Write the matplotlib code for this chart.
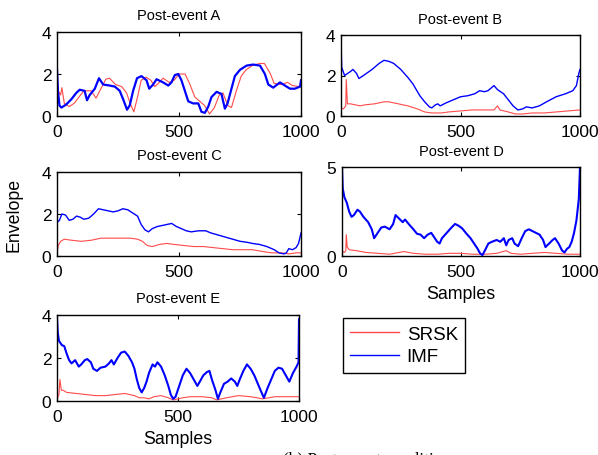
import matplotlib
matplotlib.use("Agg")
import matplotlib.pyplot as plt

plt.rcParams['font.family'] = ['Liberation Sans', 'DejaVu Sans']

# ---------------- data ----------------
# Post-event A
a_imf_x = [0, 4, 10, 18, 38, 59, 79, 93, 113, 123, 134, 155, 172, 189, 216, 237, 257, 271, 287, 298,
           312, 328, 346, 367, 378, 394, 408, 435, 456, 469, 483, 497, 510, 524, 538, 558, 579, 592,
           606, 620, 633, 654, 674, 688, 699, 715, 729, 750, 777, 804, 832, 852, 866, 886, 914, 934,
           955, 975, 996, 1000]
a_imf_y = [2.2, 1.2, 0.5, 0.4, 0.55, 0.8, 1.1, 1.25, 1.2, 0.75, 1.0, 1.3, 1.8, 1.5, 1.45, 1.4, 1.2, 0.8, 0.3, 0.5,
           1.2, 1.8, 1.9, 1.7, 1.3, 1.5, 1.75, 1.6, 1.45, 1.6, 1.95, 2.0, 1.7, 1.2, 0.7, 0.6, 0.6, 0.2,
           0.15, 0.45, 0.9, 1.15, 1.05, 0.35, 0.6, 1.3, 1.9, 2.2, 2.4, 2.45, 2.4, 2.0, 1.5, 1.35, 1.6, 1.45,
           1.3, 1.3, 1.4, 1.7]
a_srsk_x = [0, 15, 20, 30, 50, 70, 90, 110, 140, 160, 180, 200, 215, 240, 265, 285, 300, 315, 330, 345,
            365, 385, 400, 415, 435, 460, 480, 500, 525, 545, 565, 585, 605, 625, 645, 665, 680, 700,
            715, 735, 755, 775, 800, 830, 850, 875, 890, 920, 945, 965, 990, 1000]
a_srsk_y = [1.3, 1.0, 1.35, 0.6, 0.45, 0.6, 0.9, 1.2, 1.2, 0.85, 1.3, 1.75, 1.8, 1.5, 1.4, 1.1, 0.6, 0.2, 0.9, 1.7,
            1.85, 1.7, 1.4, 1.55, 1.8, 1.6, 1.7, 2.0, 2.0, 1.5, 0.9, 0.7, 0.5, 0.1, 0.4, 1.0, 1.1, 0.5,
            0.4, 1.2, 1.9, 2.2, 2.4, 2.5, 2.5, 2.0, 1.55, 1.5, 1.6, 1.45, 1.4, 1.5]

# Post-event B
b_imf_x = [0, 3, 15, 40, 50, 65, 75, 100, 130, 160, 180, 200, 220, 250, 280, 300, 330, 350, 370, 380,
           395, 405, 415, 440, 470, 500, 530, 560, 580, 600, 615, 630, 640, 655, 680, 700, 720, 740,
           760, 775, 800, 830, 860, 900, 940, 970, 985, 995, 1000]
b_imf_y = [3.7, 2.4, 2.0, 2.2, 2.3, 2.1, 1.85, 2.05, 2.3, 2.6, 2.75, 2.7, 2.6, 2.3, 1.9, 1.6, 1.0, 0.7, 0.45, 0.4,
           0.55, 0.6, 0.5, 0.65, 0.8, 0.95, 1.0, 1.1, 1.25, 1.2, 1.25, 1.4, 1.5, 1.3, 1.1, 0.8, 0.5, 0.3,
           0.35, 0.45, 0.4, 0.5, 0.7, 0.95, 1.1, 1.25, 1.5, 2.1, 2.3]
b_srsk_x = [0, 10, 20, 22, 27, 40, 60, 80, 100, 140, 180, 200, 240, 280, 320, 350, 380, 420, 450, 500,
            550, 600, 640, 655, 665, 700, 730, 760, 800, 850, 900, 950, 1000]
b_srsk_y = [0.4, 0.35, 0.5, 1.8, 0.6, 0.6, 0.55, 0.5, 0.55, 0.6, 0.7, 0.7, 0.6, 0.5, 0.35, 0.2, 0.15, 0.15, 0.2, 0.25,
            0.3, 0.3, 0.3, 0.5, 0.3, 0.2, 0.1, 0.1, 0.15, 0.15, 0.2, 0.25, 0.3]

# Post-event C
c_imf_x = [0, 10, 20, 35, 50, 65, 80, 95, 110, 130, 150, 170, 190, 210, 230, 250, 270, 290, 310, 330,
           345, 360, 375, 390, 410, 430, 450, 470, 490, 510, 530, 550, 580, 610, 630, 660, 690, 720,
           750, 780, 800, 830, 860, 890, 910, 930, 940, 950, 965, 980, 990, 1000]
c_imf_y = [1.6, 1.7, 2.0, 1.95, 1.7, 1.75, 1.9, 1.85, 1.75, 1.8, 2.0, 2.25, 2.2, 2.15, 2.1, 2.15, 2.25, 2.2, 2.05, 1.9,
           1.5, 1.25, 1.15, 1.3, 1.4, 1.45, 1.5, 1.55, 1.4, 1.3, 1.2, 1.15, 1.2, 1.2, 1.1, 1.0, 0.9, 0.8,
           0.7, 0.65, 0.6, 0.55, 0.45, 0.3, 0.15, 0.1, 0.15, 0.35, 0.3, 0.4, 0.6, 1.1]
c_srsk_x = [0, 5, 15, 30, 60, 100, 140, 180, 220, 260, 300, 330, 350, 370, 390, 420, 450, 480, 520, 560,
            600, 640, 680, 720, 760, 800, 850, 880, 920, 950, 980, 1000]
c_srsk_y = [0.1, 0.5, 0.7, 0.8, 0.75, 0.7, 0.75, 0.85, 0.85, 0.85, 0.85, 0.8, 0.7, 0.5, 0.45, 0.55, 0.6, 0.55, 0.5, 0.45,
            0.45, 0.4, 0.35, 0.3, 0.3, 0.3, 0.2, 0.15, 0.15, 0.1, 0.15, 0.15]

# Post-event D
d_imf_x = [0, 3, 10, 20, 30, 40, 50, 65, 75, 90, 110, 125, 135, 150, 165, 180, 200, 215, 225, 240,
           255, 265, 280, 300, 315, 330, 345, 360, 375, 390, 400, 410, 420, 440, 460, 475, 490, 505,
           520, 540, 555, 570, 580, 590, 600, 615, 630, 650, 665, 680, 690, 700, 715, 725, 740, 755,
           770, 785, 800, 815, 830, 845, 855, 870, 885, 895, 910, 925, 935, 945, 955, 965, 975, 985,
           995, 1000]
d_imf_y = [5.0, 3.8, 3.3, 3.0, 2.5, 2.2, 2.3, 2.6, 2.5, 2.2, 1.9, 1.5, 1.0, 1.3, 1.6, 1.65, 1.5, 1.8, 2.3, 2.1,
           1.9, 2.05, 1.8, 1.5, 1.25, 1.2, 1.0, 1.2, 1.3, 1.0, 0.8, 0.7, 1.0, 1.3, 1.6, 1.8, 1.7, 1.55,
           1.3, 1.0, 0.7, 0.4, 0.15, 0.05, 0.3, 0.7, 0.8, 0.9, 0.8, 1.0, 0.6, 0.9, 1.0, 0.7, 0.55, 1.0,
           1.4, 1.5, 1.4, 1.3, 1.2, 0.9, 0.5, 0.7, 0.9, 1.0, 0.7, 0.3, 0.2, 0.4, 0.5, 0.8, 1.3, 2.0,
           3.2, 5.0]
d_srsk_x = [0, 10, 16, 18, 22, 30, 60, 100, 150, 200, 240, 260, 300, 350, 400, 450, 500, 550, 600, 650,
            690, 710, 750, 800, 850, 900, 950, 1000]
d_srsk_y = [0.3, 0.2, 0.3, 1.2, 0.5, 0.35, 0.3, 0.2, 0.15, 0.1, 0.2, 0.25, 0.15, 0.1, 0.1, 0.15, 0.15, 0.1, 0.1, 0.15,
            0.3, 0.15, 0.1, 0.15, 0.2, 0.15, 0.1, 0.1]

# Post-event E
e_imf_x = [0, 3, 8, 20, 30, 40, 50, 60, 75, 90, 100, 115, 125, 140, 150, 165, 180, 200, 215, 225,
           235, 250, 265, 280, 295, 310, 320, 330, 340, 350, 360, 370, 380, 395, 405, 415, 430, 445,
           460, 470, 480, 490, 505, 520, 535, 550, 565, 580, 590, 605, 620, 630, 640, 655, 665, 675,
           690, 705, 720, 735, 745, 755, 770, 785, 800, 815, 830, 845, 855, 870, 885, 900, 915, 930,
           945, 960, 975, 990, 998, 1000]
e_imf_y = [3.9, 3.2, 2.8, 2.6, 2.55, 2.2, 1.9, 1.75, 1.9, 1.6, 1.7, 1.9, 1.95, 1.8, 1.5, 1.4, 1.55, 1.6, 1.75, 1.9,
           1.7, 2.0, 2.25, 2.3, 2.1, 1.8, 1.5, 1.0, 0.6, 0.4, 0.6, 0.9, 1.3, 1.7, 1.6, 1.8, 1.6, 1.2,
           0.7, 0.3, 0.1, 0.2, 0.7, 1.2, 1.5, 1.3, 1.0, 0.7, 0.9, 1.2, 1.35, 1.4, 1.0, 0.5, 0.1, 0.4,
           0.8, 0.9, 1.05, 0.9, 0.7, 1.0, 1.4, 1.7, 1.5, 1.2, 0.8, 0.4, 0.15, 0.6, 1.0, 1.4, 1.55, 1.5,
           1.2, 0.9, 1.3, 1.6, 1.8, 3.8]
e_srsk_x = [0, 8, 12, 18, 25, 40, 80, 120, 160, 200, 240, 280, 300, 320, 340, 360, 380, 400, 430, 460,
            480, 500, 520, 550, 600, 640, 660, 700, 750, 800, 850, 900, 950, 1000]
e_srsk_y = [0.1, 0.3, 1.0, 0.5, 0.5, 0.4, 0.35, 0.3, 0.25, 0.25, 0.3, 0.35, 0.3, 0.25, 0.15, 0.15, 0.1, 0.2, 0.25, 0.15,
            0.05, 0.1, 0.15, 0.2, 0.2, 0.15, 0.05, 0.15, 0.25, 0.2, 0.1, 0.2, 0.2, 0.2]

titles = ["Post-event A", "Post-event B", "Post-event C", "Post-event D", "Post-event E"]
series_names = ["SRSK", "IMF"]
x_ticks = [0, 500, 1000]
caption = "(b) Post-event condition"

RED = "#ff4a4a"
BLUE = "#0000ff"

fig = plt.figure(figsize=(5.98, 4.56), dpi=100)
W, H = 598.0, 456.0

def px_axes(left, top, right, bottom):
    return fig.add_axes([left / W, 1 - bottom / H, (right - left) / W, (bottom - top) / H])

panels = [
    (px_axes(57, 33, 301, 117), a_srsk_x, a_srsk_y, a_imf_x, a_imf_y, 4, [0, 2, 4], 1.6),
    (px_axes(341, 36, 580, 117), b_srsk_x, b_srsk_y, b_imf_x, b_imf_y, 4, [0, 2, 4], 1.0),
    (px_axes(57, 173, 301, 257), c_srsk_x, c_srsk_y, c_imf_x, c_imf_y, 4, [0, 2, 4], 1.0),
    (px_axes(342, 168, 580, 257), d_srsk_x, d_srsk_y, d_imf_x, d_imf_y, 5, [0, 5], 1.5),
    (px_axes(57, 316, 299, 402), e_srsk_x, e_srsk_y, e_imf_x, e_imf_y, 4, [0, 2, 4], 1.5),
]

lines = None
for i, (ax, sx, sy, ix, iy, ymax, yt, blw) in enumerate(panels):
    l1, = ax.plot(sx, sy, color=RED, lw=0.8, label=series_names[0])
    l2, = ax.plot(ix, iy, color=BLUE, lw=blw, label=series_names[1])
    if lines is None:
        lines = (l1, l2)
    ax.set_xlim(0, 1000)
    ax.set_ylim(0, ymax)
    ax.set_xticks(x_ticks)
    ax.set_yticks(yt)
    ax.tick_params(direction='in', length=3, width=0.8, top=True, right=True,
                   labelsize=12.5, colors='black')
    ax.tick_params(axis='x', pad=6)
    ax.tick_params(axis='y', pad=4)
    for sp in ax.spines.values():
        sp.set_linewidth(1.0)
        sp.set_color('black')
    ax.set_title(titles[i], fontsize=10.5, pad=9)

panels[2][0].set_ylabel("Envelope", fontsize=12.8, labelpad=14)
panels[3][0].set_xlabel("Samples", fontsize=12.8, labelpad=4)
panels[4][0].set_xlabel("Samples", fontsize=12.8, labelpad=4)

# legend box placed in the empty lower-right slot
leg = fig.legend(lines, series_names, loc='upper left',
                 bbox_to_anchor=(343 / W, 1 - 319 / H), fontsize=13.5,
                 frameon=True, fancybox=False, edgecolor='black', framealpha=1,
                 handlelength=2.6, borderpad=0.4, labelspacing=0.3, handletextpad=0.4,
                 borderaxespad=0)
leg.get_frame().set_linewidth(1.0)
for h in leg.get_lines():
    h.set_linewidth(1.0)

# partially visible caption at the bottom edge
fig.text(283 / W, 1 - 451 / H, caption, ha='left', va='top',
         fontsize=12.5, family='Liberation Serif')

fig.savefig("out.png", dpi=100)
